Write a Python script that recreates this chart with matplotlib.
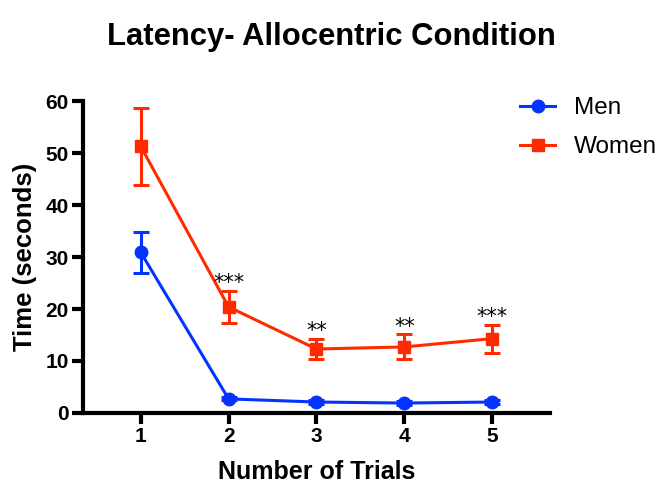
import matplotlib.pyplot as plt
from matplotlib.lines import Line2D
import numpy as np

plt.rcParams['font.family'] = ['Liberation Sans', 'DejaVu Sans']

ensayos = [1, 2, 3, 4, 5]
hombres = [30.9, 2.7, 2.1, 1.9, 2.1]
hombres_err = [3.9, 0.3, 0.3, 0.3, 0.3]
mujeres = [51.3, 20.4, 12.3, 12.7, 14.3]
mujeres_err = [7.4, 3.1, 2.0, 2.4, 2.7]
significancia = ["", "***", "**", "**", "***"]

azul = '#0433FF'
rojo = '#FF2A00'

fig = plt.figure(figsize=(6.62, 4.91), dpi=100)
ax = fig.add_axes([0.125, 0.159, 0.706, 0.635])

ax.errorbar(ensayos, hombres, yerr=hombres_err, color=azul, marker='o',
            markersize=9, linewidth=2.2, capsize=6, capthick=2.2,
            elinewidth=2.2)
ax.errorbar(ensayos, mujeres, yerr=mujeres_err, color=rojo, marker='s',
            markersize=9, linewidth=2.2, capsize=6, capthick=2.2,
            elinewidth=2.2)

# asteriscos encima de las barras de error
for x, y, e, s in zip(ensayos, mujeres, mujeres_err, significancia):
    if s:
        ax.text(x, y + e - 0.4, s, ha='center', va='bottom', fontsize=15,
                family='DejaVu Sans')

ax.set_xlim(0.34, 5.66)
ax.set_ylim(0, 60)
ax.set_xticks(ensayos)
ax.set_yticks(np.arange(0, 61, 10))

for lado in ['top', 'right']:
    ax.spines[lado].set_visible(False)
for lado in ['left', 'bottom']:
    ax.spines[lado].set_linewidth(3)
ax.tick_params(width=3, length=8, labelsize=15, pad=2)
for t in ax.get_xticklabels() + ax.get_yticklabels():
    t.set_fontweight('bold')

ax.set_xlabel("Number of Trials", fontsize=18, fontweight='bold', labelpad=10)
ax.set_ylabel("Time (seconds)", fontsize=18.5, fontweight='bold', labelpad=6)
fig.text(0.5, 0.925, "Latency- Allocentric Condition", fontsize=22.3,
         fontweight='bold', ha='center', va='center')

# leyenda solo con linea y marcador
handles = [Line2D([], [], color=azul, marker='o', markersize=9, linewidth=2.2),
           Line2D([], [], color=rojo, marker='s', markersize=9, linewidth=2.2)]
ax.legend(handles, ['Men', 'Women'], loc='upper left',
          bbox_to_anchor=(0.936, 1.012), frameon=False, fontsize=17.5,
          borderpad=0, borderaxespad=0, handlelength=1.45,
          handletextpad=0.75, labelspacing=0.7)

plt.savefig('out.png', dpi=100)
